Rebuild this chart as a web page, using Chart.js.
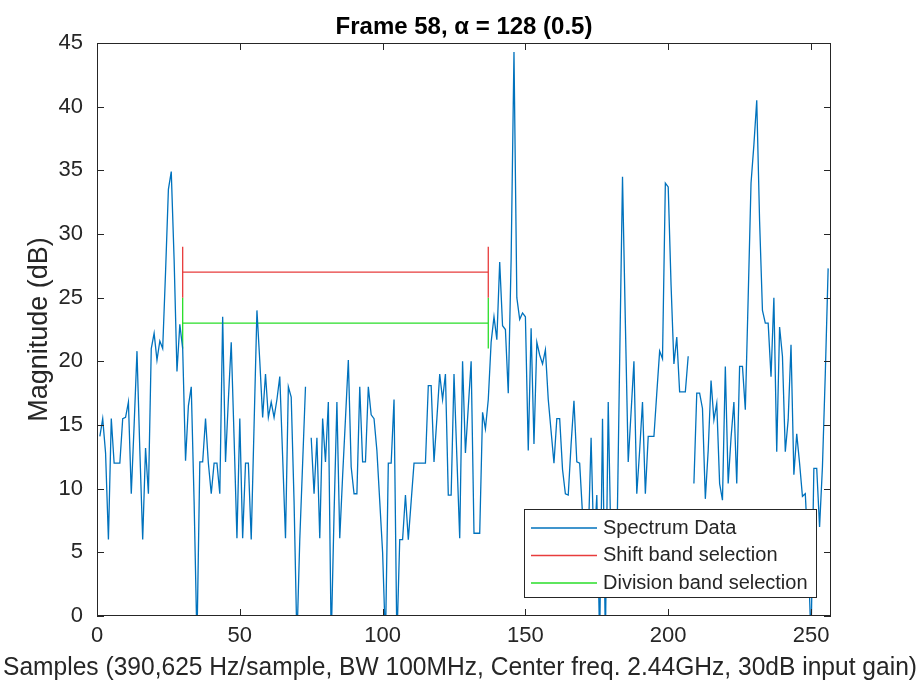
<!DOCTYPE html>
<html>
<head>
<meta charset="utf-8">
<script src="https://cdn.jsdelivr.net/npm/chart.js@4.4.1/dist/chart.umd.min.js"></script>
<style>
  html, body { margin: 0; padding: 0; background: #fff; }
</style>
</head>
<body>
<canvas id="spectrumChart" width="924" height="686"></canvas>
<script>
// Spectrum magnitude in dB for samples 1..256 (null = no value, below 0 = clipped by the axis)
const magnitude = [
  14.1, 15.5, 12.8, 6, 15.5, 12, 12, 12, 15.5, 15.6,
  16.8, 9.6, 15, 20.8, 13, 6, 13.2, 9.6, 21, 22.2,
  20.1, 21.6, 21, 27, 33.5, 34.9, 28, 19.2, 22.9, 21,
  12.2, 16.5, 18, 9, -2, 12.1, 12.1, 15.5, 12, 9.6,
  12, 12, 9.6, 23.5, 12.1, 17, 21.5, 14, 6.1, 15.5,
  6.1, 12, 12, 6, 15, 24, 20, 15.6, 19, 15.6,
  16.8, 15.6, 17, 18.8, 12.5, 6.1, 18, 17.2, 9, -2,
  6, 12, 18, null, 14, 9.6, 14, 6.1, 15.5, 12.1,
  16.8, -2, 8, 16.8, 6.1, 11, 15.5, 20.1, 11.7, 9.6,
  9.6, 18, 12.1, 12.1, 18, 15.8, 15.5, 13, 9, 5,
  -2, 12, 12, 17, -2, 6, 6, 9.5, 6, 9,
  12, 12, 12, 12, 12, 18.1, 18.1, 12.1, 15.5, 19,
  17, 19, 9.5, 9.5, 19, 12.5, 6.1, 20, 12.8, 16.4,
  20, 6.5, 6.5, 6.5, 16, 14.7, 17, 21.5, 23.5, 21.7,
  27.8, 22.8, 22.5, 17.5, 28, 44.3, 25, 23.3, 23.8, 23.5,
  13, 22.6, 13.5, 21.5, 20.5, 19.8, 20.9, 17, 14.5, 12,
  15.5, 15.5, 11.5, 9.6, 9.5, 13.5, 16.9, 12.1, 12, 8,
  4, 6, 14, 5, 9.5, -2, 15.5, -2, 16.8, 5,
  7, 5, 20, 34.5, 23, 12.1, 16, 20, 9.6, 13,
  16.8, 9.6, 14.1, 14.1, 14.1, 17.5, 20.8, 20.2, 34, 33.7,
  26, 19.8, 21.9, 17.6, 17.6, 17.6, 20.4, null, 10.4, 17.5,
  17.5, 16.3, 9.2, 13, 18.5, 15.4, 16.7, 10.4, 9.1, 19.6,
  10.4, 14, 16.8, 10.4, 19.6, 19.6, 16.2, 25, 34, 37,
  40.5, 31, 24, 23, 23, 18.8, 25, 12.9, 22.7, 20.4,
  12.9, 15.4, 21.3, 11.1, 14.3, 12, 9.4, 9.6, 5, -2,
  11.6, 11.6, 7, 11.7, 19, 27.3
];
const firstSample = 1;

// band selection markers
const bandStart = 30;
const bandEnd = 137;
const shiftLevel = 27;
const divisionLevel = 23;
const capHalf = 2;

const seriesLabels = ['Spectrum Data', 'Shift band selection', 'Division band selection'];
const seriesColors = ['#0072BD', 'rgb(232,60,60)', 'rgb(40,222,40)'];

const xTicks = [0, 50, 100, 150, 200, 250];
const yTicks = [0, 5, 10, 15, 20, 25, 30, 35, 40, 45];
const xMax = 257;

const titleText = 'Frame 58, α = 128 (0.5)';
const xLabel = 'Samples (390,625 Hz/sample, BW 100MHz, Center freq. 2.44GHz, 30dB input gain)';
const yLabel = 'Magnitude (dB)';

const FONT = "'Liberation Sans', Arial, Helvetica, sans-serif";
const INK = '#262626';

function bandShape(level) {
  return [
    { x: bandStart, y: level + capHalf },
    { x: bandStart, y: level - capHalf },
    { x: bandStart, y: level },
    { x: bandEnd, y: level },
    { x: bandEnd, y: level + capHalf },
    { x: bandEnd, y: level - capHalf }
  ];
}

// MATLAB-like box with inward ticks, title, x label and a legend drawn over the data
const axesBox = {
  id: 'axesBox',
  afterDatasetsDraw(chart) {
    const { ctx, chartArea: a, scales: { x, y } } = chart;
    const tickLen = 7;
    ctx.save();
    ctx.strokeStyle = INK;
    ctx.lineWidth = 1;
    ctx.strokeRect(a.left + 0.5, a.top + 0.5, a.right - a.left - 1, a.bottom - a.top - 1);
    ctx.beginPath();
    xTicks.forEach(v => {
      const px = Math.round(x.getPixelForValue(v)) + 0.5;
      ctx.moveTo(px, a.bottom); ctx.lineTo(px, a.bottom - tickLen);
      ctx.moveTo(px, a.top); ctx.lineTo(px, a.top + tickLen);
    });
    yTicks.forEach(v => {
      const py = Math.round(y.getPixelForValue(v)) + 0.5;
      ctx.moveTo(a.left, py); ctx.lineTo(a.left + tickLen, py);
      ctx.moveTo(a.right, py); ctx.lineTo(a.right - tickLen, py);
    });
    ctx.stroke();

    // title and x label, centred on the axes like MATLAB does
    const cx = (a.left + a.right) / 2;
    ctx.textAlign = 'center';
    ctx.textBaseline = 'middle';
    ctx.fillStyle = '#000';
    ctx.font = 'bold 24px ' + FONT;
    ctx.fillText(titleText, cx, 27);
    ctx.fillStyle = INK;
    ctx.font = '26px ' + FONT;
    ctx.fillText(xLabel, cx - 4, 668, 914);

    // legend
    const w = 292, h = 88;
    const lx = a.right - 15 - w, ly = a.bottom - 19 - h;
    ctx.fillStyle = '#fff';
    ctx.fillRect(lx, ly, w, h);
    ctx.strokeRect(lx + 0.5, ly + 0.5, w, h);
    ctx.font = '20px ' + FONT;
    ctx.textAlign = 'left';
    chart.data.datasets.forEach((ds, i) => {
      const cy = ly + 19 + i * 27.5;
      ctx.strokeStyle = ds.borderColor;
      ctx.lineWidth = 1.3;
      ctx.beginPath();
      ctx.moveTo(lx + 7, cy); ctx.lineTo(lx + 73, cy);
      ctx.stroke();
      ctx.fillStyle = INK;
      ctx.fillText(ds.label, lx + 79, cy);
    });
    ctx.restore();
  }
};

const ctx = document.getElementById('spectrumChart').getContext('2d');
const spectrumChart = new Chart(ctx, {
  type: 'scatter',
  data: {
    datasets: [
      {
        label: seriesLabels[0],
        data: magnitude.map((v, i) => ({ x: firstSample + i, y: v })),
        borderColor: seriesColors[0],
        borderWidth: 1.3,
        showLine: true,
        spanGaps: false,
        pointRadius: 0,
        tension: 0
      },
      {
        label: seriesLabels[1],
        data: bandShape(shiftLevel),
        borderColor: seriesColors[1],
        borderWidth: 1.3,
        showLine: true,
        pointRadius: 0
      },
      {
        label: seriesLabels[2],
        data: bandShape(divisionLevel),
        borderColor: seriesColors[2],
        borderWidth: 1.3,
        showLine: true,
        pointRadius: 0
      }
    ]
  },
  options: {
    responsive: false,
    animation: false,
    devicePixelRatio: 1,
    layout: { padding: { left: 0, right: 93, top: 43, bottom: 0 } },
    plugins: {
      legend: { display: false },
      tooltip: { enabled: false },
      title: { display: false }
    },
    scales: {
      x: {
        type: 'linear',
        min: 0,
        max: xMax,
        afterBuildTicks: s => { s.ticks = xTicks.map(v => ({ value: v })); },
        afterFit: s => { s.height = 70; },
        grid: { display: false, drawTicks: false },
        border: { display: false },
        ticks: { color: INK, font: { family: FONT, size: 22 }, padding: 7, maxRotation: 0 }
      },
      y: {
        min: 0,
        max: 45,
        afterBuildTicks: s => { s.ticks = yTicks.map(v => ({ value: v })); },
        afterFit: s => { s.width = 97; },
        grid: { display: false, drawTicks: false },
        border: { display: false },
        ticks: { color: INK, font: { family: FONT, size: 22 }, padding: 14 },
        title: {
          display: true,
          text: yLabel,
          color: INK,
          font: { family: FONT, size: 27, lineHeight: 1.2 },
          padding: { top: 23, bottom: 0 }
        }
      }
    }
  },
  plugins: [axesBox]
});
</script>
</body>
</html>
